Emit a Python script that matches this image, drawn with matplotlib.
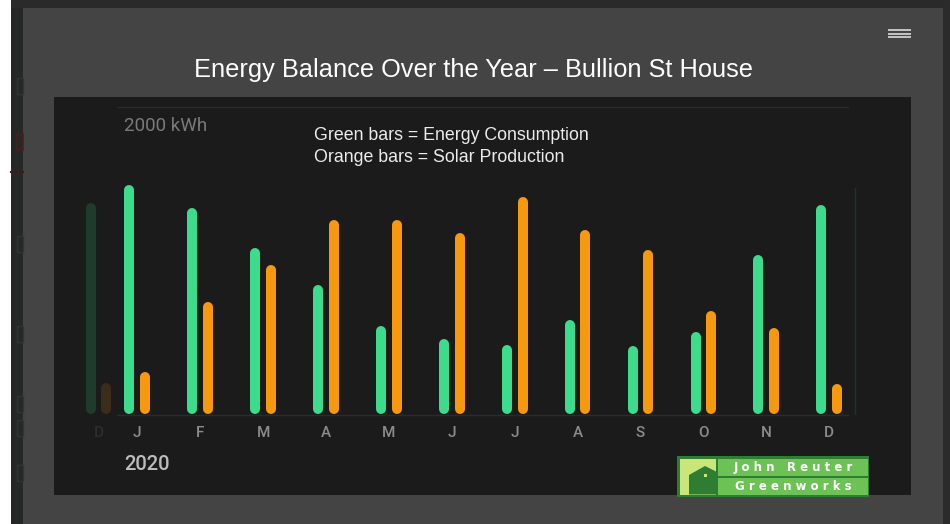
import matplotlib
matplotlib.use("Agg")
import matplotlib.pyplot as plt
from matplotlib.patches import Rectangle, Polygon
import numpy as np

# ---------------- data ----------------
months = ["J", "F", "M", "A", "M", "J", "J", "A", "S", "O", "N", "D"]
consumption = [1490, 1340, 1080, 840, 575, 490, 450, 610, 445, 535, 1035, 1360]
production = [275, 730, 970, 1265, 1265, 1180, 1415, 1200, 1070, 670, 560, 195]
prev_label = "D"
prev_consumption = 1375
prev_production = 200
year_label = "2020"
unit_value = 2000
unit_label = "2000 kWh"
title = "Energy Balance Over the Year – Bullion St House"
notes = ["Green bars = Energy Consumption", "Orange bars = Solar Production"]
logo_lines = ["J o h n   R e u t e r", "G r e e n w o r k s"]

# ---------------- layout helpers ----------------
W, H = 950, 524
fig = plt.figure(figsize=(W / 100, H / 100), dpi=100)
fig.patch.set_facecolor("#444444")

GREEN = "#3ddc8c"
ORANGE = "#f7990f"
PANEL = "#1b1b1b"

def rect(x0, y0, x1, y1):
    return [x0 / W, 1 - y1 / H, (x1 - x0) / W, (y1 - y0) / H]

# background / modal decorations (pixel coordinates)
bg = fig.add_axes([0, 0, 1, 1], zorder=0)
bg.set_xlim(0, W)
bg.set_ylim(H, 0)
bg.axis("off")
bg.add_patch(Rectangle((0, 0), 10.5, H, color="white", lw=0))
bg.add_patch(Rectangle((10.5, 0), 12, H, color="#262827", lw=0))
bg.add_patch(Rectangle((10.5, 0), W, 8, color="#2a2a2a", lw=0))
bg.add_patch(Rectangle((942.5, 0), 8, H, color="#2b2b2b", lw=0))
bg.add_patch(Rectangle((17, 134), 6, 16, fill=False, ec="#4a1e1e", lw=1.2))
bg.plot([10.5, 22.5], [172, 172], color="#3e1a1a", lw=1.5)
for yy in (78, 236, 326, 396, 420, 465):
    bg.add_patch(Rectangle((17, yy), 6, 16, fill=False, ec="#323434", lw=1))
for yy in (30, 33.5, 37):
    bg.plot([888, 911], [yy, yy], color="#cfcfcf", lw=1.3, solid_capstyle="butt")
bg.text(474, 70, title, color="white", fontsize=18.3, family="Liberation Sans",
        ha="center", va="center")

# ---------------- chart axes ----------------
PX0, PX1, PY0, PY1 = 54, 911, 97, 495
ax = fig.add_axes(rect(PX0, PY0, PX1, PY1), zorder=1)
ax.set_facecolor(PANEL)
for s in ax.spines.values():
    s.set_visible(False)
ax.set_xticks([])
ax.set_yticks([])

J_PX, STEP_PX = 137.3, 62.9      # pixel position of first month, month spacing
BASE_PY, TOP_PY = 414, 107       # baseline and unit_value line
kwh_per_px = unit_value / (BASE_PY - TOP_PY)

def px2m(px):
    return 1 + (px - J_PX) / STEP_PX

def py2k(py):
    return (BASE_PY - py) * kwh_per_px

ax.set_xlim(px2m(PX0), px2m(PX1))
ax.set_ylim(py2k(PY1), py2k(PY0))

bar_w_pt = 10 * 72 / 100
cap = 5 * kwh_per_px
off = 7.85 / STEP_PX

def draw_bar(x, v, color):
    ax.plot([x, x], [cap, max(cap, v - cap)], color=color, lw=bar_w_pt,
            solid_capstyle="round", zorder=3)

xs = np.arange(1, len(months) + 1)
for x, c, p in zip(xs, consumption, production):
    draw_bar(x - off, c, GREEN)
    draw_bar(x + off, p, ORANGE)

prev_x = px2m(98.5)
draw_bar(prev_x - off, prev_consumption, "#1f3b2b")
draw_bar(prev_x + off, prev_production, "#3b2d17")

# grid lines
ax.plot([px2m(118), px2m(848)], [unit_value, unit_value], color="#2b2b2b", lw=1, zorder=1)
ax.plot([px2m(117), px2m(848)], [py2k(415), py2k(415)], color="#2b2b2b", lw=1, zorder=1)
ax.plot([px2m(855), px2m(855)], [py2k(188), 0], color="#1f3327", lw=1, zorder=1)

# labels
for x, m in zip(xs, months):
    ax.text(x, py2k(433), m, color="#8c8c8c", fontsize=11, family="Roboto",
            fontweight="medium", ha="center", va="center")
ax.text(prev_x, py2k(433), prev_label, color="#2e2e2e", fontsize=11, family="Roboto",
        fontweight="medium", ha="center", va="center")
ax.text(px2m(124), py2k(126), unit_label, color="#7a7a7a", fontsize=13.5,
        family="Roboto", ha="left", va="center")
ax.text(px2m(124), py2k(464), year_label, color="#bdbdbd", fontsize=14.5,
        family="Roboto", fontweight="medium", ha="left", va="center")
ax.text(px2m(314), py2k(135), notes[0], color="#ececec", fontsize=12.8,
        family="Liberation Sans", ha="left", va="center")
ax.text(px2m(314), py2k(158), notes[1], color="#ececec", fontsize=12.8,
        family="Liberation Sans", ha="left", va="center")

# ---------------- logo overlay ----------------
ov = fig.add_axes([0, 0, 1, 1], zorder=3)
ov.set_xlim(0, W)
ov.set_ylim(H, 0)
ov.axis("off")
ov.patch.set_alpha(0)
ov.add_patch(Rectangle((677, 456), 192, 41, color="#2e7d32", lw=0))
ov.add_patch(Rectangle((680, 459), 36, 35.5, color="#c9e67b", lw=0))
ov.add_patch(Polygon([(689, 494.5), (689, 475), (705, 466), (716, 471.5), (716, 494.5)],
                     closed=True, color="#2e7d32", lw=0))
ov.add_patch(Rectangle((703.5, 473.5), 3.2, 3.5, color="#c9e67b", lw=0))
ov.add_patch(Rectangle((718, 459), 150, 16.5, color="#6cc254", lw=0))
ov.add_patch(Rectangle((718, 478), 150, 16.5, color="#6cc254", lw=0))
ov.text(793, 467.5, logo_lines[0], color="white", fontsize=8.5, fontweight="semibold",
        family="DejaVu Sans", ha="center", va="center")
ov.text(793, 486.5, logo_lines[1], color="white", fontsize=8.5, fontweight="semibold",
        family="DejaVu Sans", ha="center", va="center")

fig.savefig("out.png", dpi=100, facecolor=fig.get_facecolor())
